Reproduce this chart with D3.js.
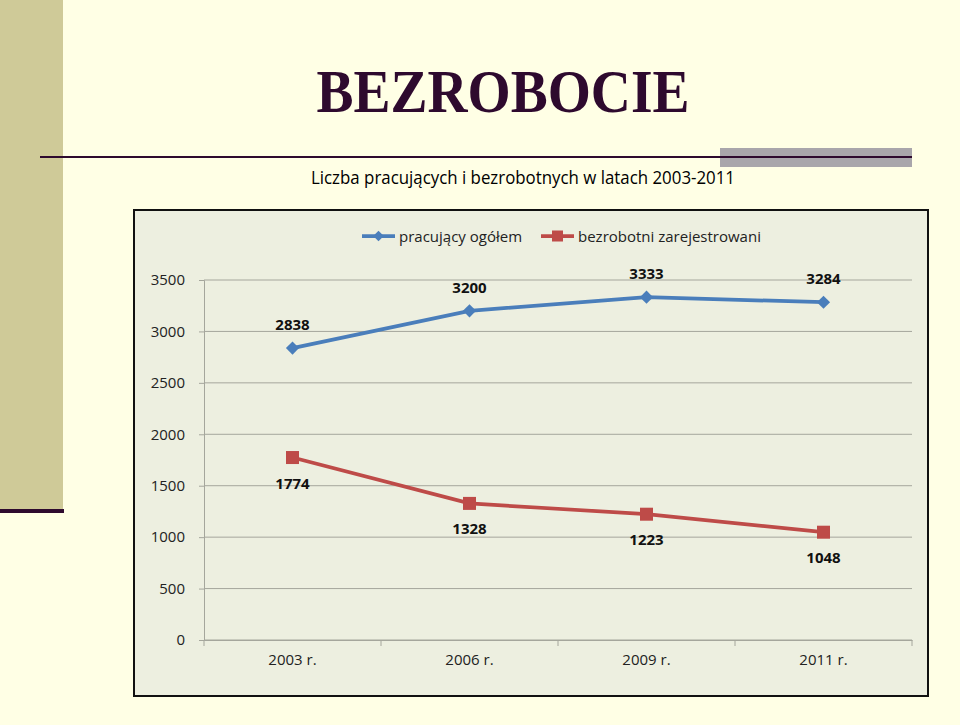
<!DOCTYPE html>
<html><head><meta charset="utf-8">
<script src="https://cdn.jsdelivr.net/npm/d3@7"></script>
<style>html,body{margin:0;padding:0;background:#FFFFE5;}svg{display:block;}</style>
</head><body>
<script>
const categories = ["2003 r.", "2006 r.", "2009 r.", "2011 r."];
const seriesNames = ["pracujący ogółem", "bezrobotni zarejestrowani"];
const pracujacy = [2838, 3200, 3333, 3284];
const bezrobotni = [1774, 1328, 1223, 1048];
const yTicks = [0, 500, 1000, 1500, 2000, 2500, 3000, 3500];
const titleText = "BEZROBOCIE";
const subtitleText = "Liczba pracujących i bezrobotnych w latach 2003-2011";

const W = 960, H = 725;
const svg = d3.select("body").append("svg").attr("width", W).attr("height", H);
svg.append("rect").attr("width", W).attr("height", H).attr("fill", "#FFFFE5");
// slide decorations
svg.append("rect").attr("x", 0).attr("y", 0).attr("width", 63).attr("height", 510).attr("fill", "#CFCA98");
svg.append("rect").attr("x", 0).attr("y", 509).attr("width", 64).attr("height", 4).attr("fill", "#2E0A2E");
svg.append("rect").attr("x", 720).attr("y", 148).attr("width", 192).attr("height", 19).attr("fill", "#A9A6AB");
svg.append("rect").attr("x", 40).attr("y", 156).attr("width", 872).attr("height", 2).attr("fill", "#2E0A2E");
svg.append("text").attr("x", 503).attr("y", 112).attr("text-anchor", "middle")
  .attr("font-family", "'Liberation Serif', 'Times New Roman', serif").attr("font-weight", "bold")
  .attr("font-size", 62).attr("fill", "#2E0A2E")
  .attr("textLength", 373).attr("lengthAdjust", "spacingAndGlyphs").text(titleText);
svg.append("text").attr("x", 523).attr("y", 184).attr("text-anchor", "middle")
  .attr("font-family", "'Open Sans', sans-serif").attr("font-size", 18).attr("fill", "#000")
  .attr("textLength", 424).attr("lengthAdjust", "spacingAndGlyphs").text(subtitleText);

// chart frame
svg.append("rect").attr("x", 134).attr("y", 210).attr("width", 794).attr("height", 486)
  .attr("fill", "#EDEFE0").attr("stroke", "#111").attr("stroke-width", 2);

const pLeft = 204, pRight = 912, pTop = 280, pBottom = 640;
const x = d3.scaleBand().domain(categories).range([pLeft, pRight]).padding(0);
const y = d3.scaleLinear().domain([0, 3500]).range([pBottom, pTop]);
const font = "'Open Sans', sans-serif";

// grid
svg.append("g").selectAll("line").data(yTicks).join("line")
  .attr("x1", pLeft).attr("x2", pRight).attr("y1", d => y(d)).attr("y2", d => y(d))
  .attr("stroke", "#A5A69C").attr("stroke-width", 1);

// y axis
const yAxis = svg.append("g").attr("transform", `translate(${pLeft},0)`)
  .call(d3.axisLeft(y).tickValues(yTicks).tickFormat(d3.format("d")).tickSize(5).tickPadding(14));
yAxis.select(".domain").attr("stroke", "#A5A69C");
yAxis.selectAll(".tick line").attr("stroke", "#A5A69C");
yAxis.selectAll("text").attr("font-family", font).attr("font-size", 15).attr("fill", "#222");

// x axis
const xAxis = svg.append("g").attr("transform", `translate(0,${pBottom})`)
  .call(d3.axisBottom(x).tickSize(0).tickPadding(14));
xAxis.select(".domain").attr("stroke", "#A5A69C");
xAxis.selectAll("text").attr("font-family", font).attr("font-size", 15).attr("fill", "#222");
const bounds = [pLeft, ...categories.map(c => x(c) + x.bandwidth())];
svg.append("g").selectAll("line").data(bounds).join("line")
  .attr("x1", d => d).attr("x2", d => d).attr("y1", pBottom).attr("y2", pBottom + 6)
  .attr("stroke", "#A5A69C");

const cx = c => x(c) + x.bandwidth() / 2;
const line = d3.line().x(d => cx(d.c)).y(d => y(d.v));
const blue = "#4A7EBB", red = "#BE4B48";
const dBlue = categories.map((c, i) => ({c, v: pracujacy[i]}));
const dRed = categories.map((c, i) => ({c, v: bezrobotni[i]}));

svg.append("path").datum(dBlue).attr("d", line).attr("fill", "none").attr("stroke", blue).attr("stroke-width", 3.75);
svg.append("path").datum(dRed).attr("d", line).attr("fill", "none").attr("stroke", red).attr("stroke-width", 3.75);

const diamond = d3.symbol().type(d3.symbolSquare2).size(110);
svg.append("g").selectAll("path").data(dBlue).join("path")
  .attr("d", diamond).attr("transform", d => `translate(${cx(d.c)},${y(d.v)}) rotate(45)`).attr("fill", blue);
svg.append("g").selectAll("rect").data(dRed).join("rect")
  .attr("x", d => cx(d.c) - 6.5).attr("y", d => y(d.v) - 6.5).attr("width", 13).attr("height", 13).attr("fill", red);

// data labels
svg.append("g").selectAll("text").data(dBlue).join("text")
  .attr("x", d => cx(d.c)).attr("y", d => y(d.v) - 18).attr("text-anchor", "middle")
  .attr("font-family", font).attr("font-weight", "bold").attr("font-size", 15).attr("fill", "#111")
  .text(d => d.v);
svg.append("g").selectAll("text").data(dRed).join("text")
  .attr("x", d => cx(d.c)).attr("y", d => y(d.v) + 31).attr("text-anchor", "middle")
  .attr("font-family", font).attr("font-weight", "bold").attr("font-size", 15).attr("fill", "#111")
  .text(d => d.v);

// legend
const leg = svg.append("g");
const legItems = [{name: seriesNames[0], color: blue, x: 362, type: "d"}, {name: seriesNames[1], color: red, x: 541, type: "s"}];
legItems.forEach(it => {
  leg.append("line").attr("x1", it.x).attr("x2", it.x + 33).attr("y1", 236).attr("y2", 236).attr("stroke", it.color).attr("stroke-width", 3.75);
  if (it.type === "d") leg.append("path").attr("d", d3.symbol().type(d3.symbolSquare2).size(70)).attr("transform", `translate(${it.x + 16.5},236) rotate(45)`).attr("fill", it.color);
  else leg.append("rect").attr("x", it.x + 11).attr("y", 230.5).attr("width", 11).attr("height", 11).attr("fill", it.color);
  leg.append("text").attr("x", it.x + 37).attr("y", 241.5).attr("font-family", font).attr("font-size", 15).attr("fill", "#222").text(it.name);
});
</script>
</body></html>
